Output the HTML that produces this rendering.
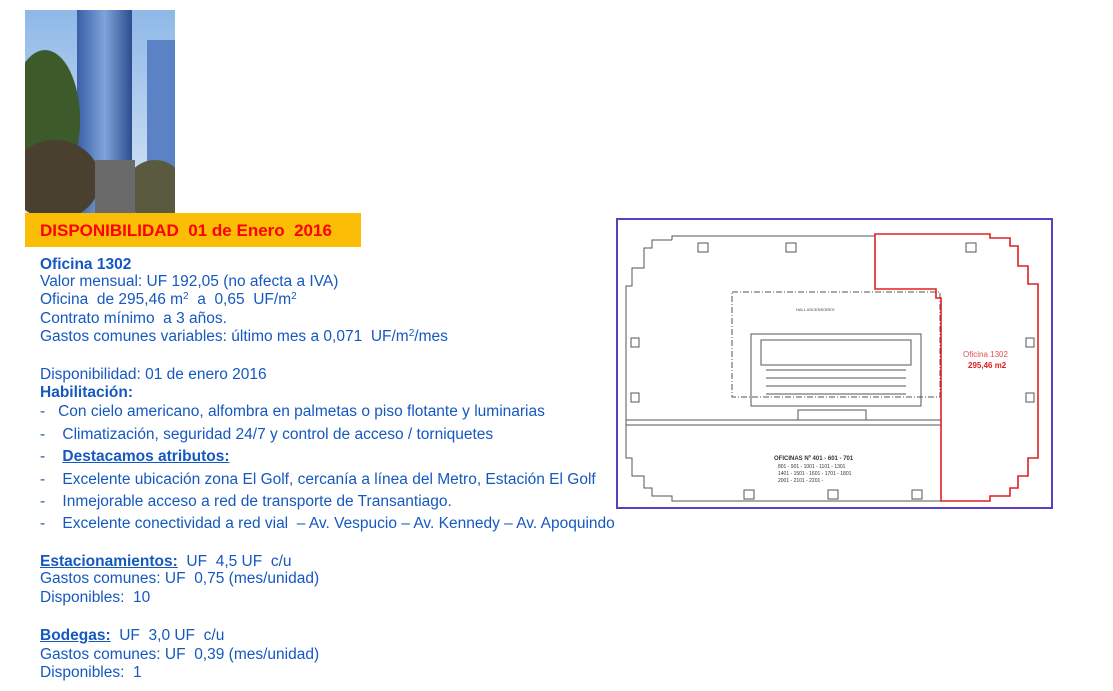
<!DOCTYPE html>
<html><head><meta charset="utf-8"><style>
body{margin:0;width:1113px;height:691px;background:#fff;position:relative;overflow:hidden;font-family:"Liberation Sans",sans-serif;}
.t{position:absolute;left:40px;color:#1558c0;font-size:15.5px;white-space:nowrap;line-height:17px;letter-spacing:0}
.b{font-weight:bold}
.u{text-decoration:underline;font-weight:bold}
sup{font-size:10px;vertical-align:5px;line-height:0}
</style></head><body>
<svg style="position:absolute;left:25px;top:10px" width="150" height="203">
<defs><linearGradient id="sk" x1="0" y1="0" x2="0" y2="1"><stop offset="0" stop-color="#8fb8e8"/><stop offset="1" stop-color="#d8e6f4"/></linearGradient>
<linearGradient id="bd" x1="0" y1="0" x2="1" y2="0"><stop offset="0" stop-color="#3a5fa8"/><stop offset=".5" stop-color="#7fa4d8"/><stop offset="1" stop-color="#2d4c90"/></linearGradient></defs>
<rect width="150" height="203" fill="url(#sk)"/>
<rect x="52" y="0" width="55" height="203" fill="url(#bd)"/>
<rect x="122" y="30" width="28" height="173" fill="#5b82c4"/>
<ellipse cx="20" cy="110" rx="35" ry="70" fill="#3d5a2a"/>
<ellipse cx="30" cy="170" rx="45" ry="40" fill="#4a4030"/>
<ellipse cx="130" cy="180" rx="30" ry="30" fill="#5a5a40"/>
<rect x="70" y="150" width="40" height="53" fill="#6a6a6a"/>
</svg>
<div style="position:absolute;left:25px;top:213px;width:336px;height:34px;background:#fbbd05"></div>
<div style="position:absolute;left:40px;top:221px;color:#f00;font-weight:bold;font-size:17px;white-space:nowrap">DISPONIBILIDAD&nbsp; 01 de Enero&nbsp; 2016</div>
<div class="t b" style="top:256px">Oficina 1302</div>
<div class="t" style="top:273px">Valor mensual: UF 192,05 (no afecta a IVA)</div>
<div class="t" style="top:291px">Oficina&nbsp; de 295,46 m<sup>2</sup>&nbsp; a&nbsp; 0,65&nbsp; UF/m<sup>2</sup></div>
<div class="t" style="top:310px">Contrato mínimo&nbsp; a 3 años.</div>
<div class="t" style="top:328px">Gastos comunes variables: último mes a 0,071&nbsp; UF/m<sup>2</sup>/mes</div>
<div class="t" style="top:366px">Disponibilidad: 01 de enero 2016</div>
<div class="t b" style="top:384px">Habilitación:</div>
<div class="t" style="top:403px">-&nbsp;&nbsp; Con cielo americano, alfombra en palmetas o piso flotante y luminarias</div>
<div class="t" style="top:426px">-&nbsp;&nbsp;&nbsp; Climatización, seguridad 24/7 y control de acceso / torniquetes</div>
<div class="t" style="top:448px">-&nbsp;&nbsp;&nbsp; <span class="u">Destacamos atributos:</span></div>
<div class="t" style="top:471px">-&nbsp;&nbsp;&nbsp; Excelente ubicación zona El Golf, cercanía a línea del Metro, Estación El Golf</div>
<div class="t" style="top:493px">-&nbsp;&nbsp;&nbsp; Inmejorable acceso a red de transporte de Transantiago.</div>
<div class="t" style="top:515px">-&nbsp;&nbsp;&nbsp; Excelente conectividad a red vial&nbsp; – Av. Vespucio – Av. Kennedy – Av. Apoquindo</div>
<div class="t" style="top:553px"><span class="u">Estacionamientos:</span>&nbsp; UF&nbsp; 4,5 UF&nbsp; c/u</div>
<div class="t" style="top:570px">Gastos comunes: UF&nbsp; 0,75 (mes/unidad)</div>
<div class="t" style="top:589px">Disponibles:&nbsp; 10</div>
<div class="t" style="top:627px"><span class="u">Bodegas:</span>&nbsp; UF&nbsp; 3,0 UF&nbsp; c/u</div>
<div class="t" style="top:646px">Gastos comunes: UF&nbsp; 0,39 (mes/unidad)</div>
<div class="t" style="top:664px">Disponibles:&nbsp; 1</div>
<svg style="position:absolute;left:616px;top:218px" width="437" height="291" font-family="Liberation Sans">
<rect x="1" y="1" width="435" height="289" fill="#fff" stroke="#5a3fc0" stroke-width="2"/>
<g fill="none" stroke="#555" stroke-width="1">
<path d="M56 22 L56 18 L259 18 M56 22 L36 22 L36 30 L28 30 L28 50 L16 50 L16 68 L10 68 L10 240 L16 240 L16 258 L28 258 L28 270 L36 270 L36 278 L56 278 L56 283 L325 283"/>
<path d="M116 74 L324 74 L324 179 L116 179 Z" stroke-dasharray="6,2,1,2"/>
<rect x="135" y="116" width="170" height="72"/>
<rect x="145" y="122" width="150" height="25"/>
<path d="M150 152 L290 152 M150 160 L290 160 M150 168 L290 168 M150 176 L290 176"/>
<rect x="182" y="192" width="68" height="10"/>
<path d="M10 202 L325 202 M10 207 L325 207"/>
<rect x="82" y="25" width="10" height="9"/><rect x="170" y="25" width="10" height="9"/><rect x="350" y="25" width="10" height="9"/>
<rect x="15" y="120" width="8" height="9"/><rect x="15" y="175" width="8" height="9"/><rect x="410" y="120" width="8" height="9"/><rect x="410" y="175" width="8" height="9"/>
<rect x="128" y="272" width="10" height="9"/><rect x="212" y="272" width="10" height="9"/><rect x="296" y="272" width="10" height="9"/>
</g>
<path d="M259 16 L374 16 L374 20 L394 20 L394 28 L402 28 L402 48 L412 48 L412 66 L422 66 L422 240 L412 240 L412 258 L402 258 L402 270 L394 270 L394 278 L374 278 L374 283 L325 283 L325 80 L320 80 L320 71 L259 71 Z" fill="none" stroke="#e02020" stroke-width="1.6"/>
<text x="180" y="93" font-size="4" fill="#444">HALL ASCENSORES</text>
<text x="158" y="242" font-size="6" font-weight="bold" fill="#333">OFICINAS Nº 401 - 601 - 701</text>
<text x="162" y="250" font-size="5" fill="#333">801 - 901 - 1001 - 1101 - 1301</text>
<text x="162" y="257" font-size="5" fill="#333">1401 - 1501 - 1601 - 1701 - 1801</text>
<text x="162" y="264" font-size="5" fill="#333">2001 - 2101 - 2201 -</text>
<text x="347" y="139" font-size="8" fill="#e05050">Oficina 1302</text>
<text x="352" y="150" font-size="8" font-weight="bold" fill="#e02020">295,46 m2</text>
</svg>
</body></html>
